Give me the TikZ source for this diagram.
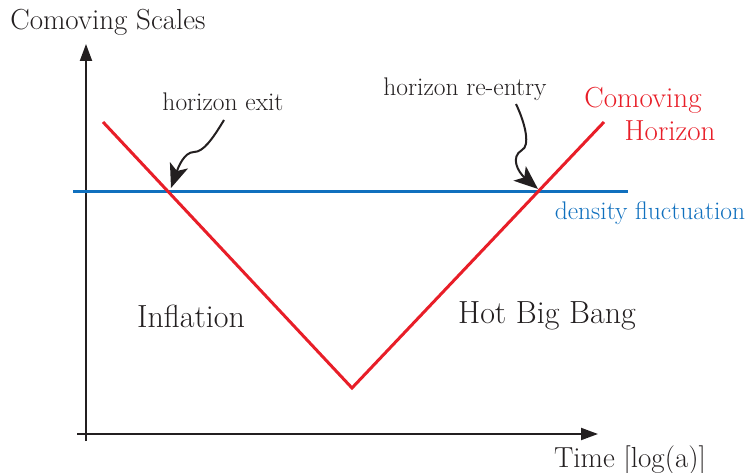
\documentclass[tikz,border=0pt]{standalone}
\usetikzlibrary{arrows.meta}
\definecolor{hred}{RGB}{232,30,40}
\definecolor{hblue}{RGB}{16,112,190}
\definecolor{ink}{RGB}{35,31,32}
\tikzset{
  axis/.style={draw=ink,line width=2pt,-{Triangle[length=17pt,width=12pt]}},
  wavy/.style={draw=ink,line width=2pt,-{Stealth[length=24pt,width=19pt,inset=6pt]}},
  lbl/.style={text=ink,inner sep=0pt},
}
\begin{document}
\begin{tikzpicture}[x=1pt,y=-1pt]
\useasboundingbox (0,0) rectangle (747,473);
% axes
\coordinate (o1) at (86,441);
\coordinate (ytip) at (86,44);
\coordinate (x0) at (77,434);
\coordinate (xtip) at (598,434);
\draw[axis] (o1) -- (ytip);
\draw[axis] (x0) -- (xtip);
% density fluctuation
\coordinate (b0) at (73,192);
\coordinate (b1) at (628,192);
\draw[hblue,line width=3pt] (b0) -- (b1);
% comoving horizon
\coordinate (r0) at (103,122);
\coordinate (rm) at (352,388);
\coordinate (r1) at (604,122);
\draw[hred,line width=3pt,line join=miter] (r0) -- (rm) -- (r1);
% labels
\node[lbl,font=\fontsize{29}{31}\selectfont] (ys) at (108,22) {Comoving Scales};
\node[lbl,font=\fontsize{29}{31}\selectfont] (xs) at (630,460) {Time [log(a)]};
\node[lbl,font=\fontsize{25.5}{27}\selectfont] (hexit) at (223,102) {horizon exit};
\node[lbl,font=\fontsize{25.5}{27}\selectfont] (hre) at (465,89) {horizon re-entry};
\node[lbl,text=hred,font=\fontsize{29}{31}\selectfont] (cm) at (643,100) {Comoving};
\node[lbl,text=hred,font=\fontsize{29}{31}\selectfont] (hz) at (670,131) {Horizon};
\node[lbl,text=hblue,font=\fontsize{25.5}{27}\selectfont] (df) at (650,213) {density fluctuation};
\node[lbl,font=\fontsize{32}{34}\selectfont] (inf) at (191,316) {Inflation};
\node[lbl,font=\fontsize{32}{34}\selectfont] (hbb) at (547,316) {Hot Big Bang};
% wavy arrows
\coordinate (ea) at (224,120);
\coordinate (eb) at (171,188);
\draw[wavy] (ea) .. controls (212,140) and (203,152) .. (194,152)
  .. controls (184,152) and (178,168) .. (eb);
\coordinate (ra) at (516,104);
\coordinate (rb) at (538,189);
\draw[wavy] (ra) .. controls (526,125) and (530,146) .. (522,150)
  .. controls (510,157) and (518,172) .. (rb);
\end{tikzpicture}
\end{document}
